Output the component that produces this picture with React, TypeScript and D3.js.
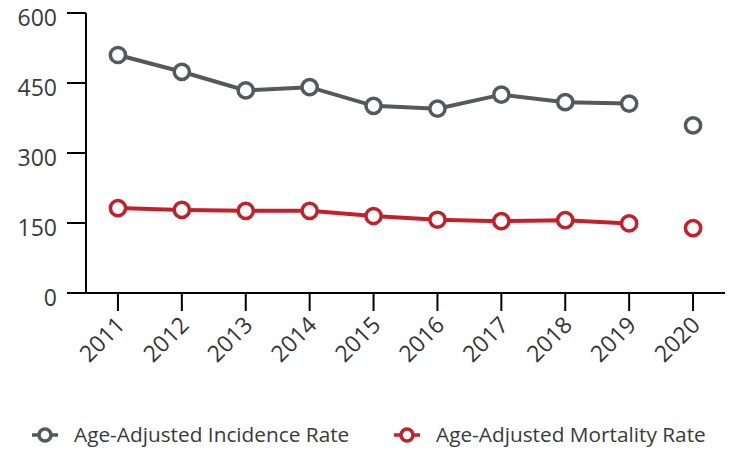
import React from 'react';
import * as d3 from 'd3';

const years = ['2011', '2012', '2013', '2014', '2015', '2016', '2017', '2018', '2019', '2020'];
const incidence = [510, 474, 434, 441, 401, 395, 425, 409, 406, 359];
const mortality = [182, 178, 176, 176, 165, 157, 154, 156, 149, 139];
const yTicks = [0, 150, 300, 450, 600];
const breakBefore = '2020';
const seriesNames = ['Age-Adjusted Incidence Rate', 'Age-Adjusted Mortality Rate'];
const seriesColors = ['#55595c', '#c1212b'];

const W = 734;
const H = 451;
const FONT = '"Open Sans", sans-serif';

export default function App() {
  const x = d3.scaleBand<string>().domain(years).range([86, 725]).padding(0);
  const cx = (yr: string) => (x(yr) as number) + x.bandwidth() / 2;
  const y = d3.scaleLinear().domain([0, 600]).range([293, 13]);

  const series = [incidence, mortality].map((vals, i) => ({
    name: seriesNames[i],
    color: seriesColors[i],
    pts: years.map((yr, j) => ({ yr, v: vals[j] })),
  }));

  const breakIdx = years.indexOf(breakBefore);
  const line = d3
    .line<{ yr: string; v: number }>()
    .x((d) => cx(d.yr))
    .y((d) => y(d.v));

  return (
    <svg width={W} height={H} style={{ position: 'absolute', left: 0, top: 0, background: '#fff' }}>
      {/* y axis */}
      <line x1={86} x2={86} y1={y(600)} y2={y(0)} stroke="#000" strokeWidth={2} />
      {yTicks.map((t) => (
        <g key={t}>
          <line x1={67} x2={86} y1={y(t)} y2={y(t)} stroke="#000" strokeWidth={2} />
          <text
            x={57}
            y={y(t) + 12.5}
            textAnchor="end"
            fontFamily={FONT}
            fontSize={23}
            fill="#3a3a3a"
          >
            {t}
          </text>
        </g>
      ))}
      {/* x axis */}
      <line x1={67} x2={725} y1={y(0)} y2={y(0)} stroke="#000" strokeWidth={2} />
      {years.map((yr) => (
        <g key={yr}>
          <line x1={cx(yr)} x2={cx(yr)} y1={y(0)} y2={y(0) + 18} stroke="#000" strokeWidth={2} />
          <text
            transform={`translate(${cx(yr) - 3},${y(0) + 22}) rotate(-45)`}
            textAnchor="end"
            dy="0.7em"
            fontFamily={FONT}
            fontSize={23}
            fill="#333"
          >
            {yr}
          </text>
        </g>
      ))}
      {/* series */}
      {series.map((s) => (
        <g key={s.name}>
          <path
            d={line(s.pts.slice(0, breakIdx)) || ''}
            fill="none"
            stroke={s.color}
            strokeWidth={4}
          />
          <path
            d={line(s.pts.slice(breakIdx)) || ''}
            fill="none"
            stroke={s.color}
            strokeWidth={4}
          />
          {s.pts.map((p) => (
            <circle
              key={p.yr}
              cx={cx(p.yr)}
              cy={y(p.v)}
              r={7.6}
              fill="#fff"
              stroke={s.color}
              strokeWidth={3.5}
            />
          ))}
        </g>
      ))}
      {/* legend */}
      {series.map((s, i) => {
        const mx = i === 0 ? 45 : 407;
        return (
          <g key={s.name}>
            <line x1={mx - 13} x2={mx + 13} y1={435} y2={435} stroke={s.color} strokeWidth={3.5} />
            <circle cx={mx} cy={435} r={6} fill="#fff" stroke={s.color} strokeWidth={3.5} />
            <text
              x={mx + 29}
              y={435}
              dy="0.35em"
              fontFamily={FONT}
              fontSize={20.8}
              fill="#3a3a3a"
            >
              {s.name}
            </text>
          </g>
        );
      })}
    </svg>
  );
}
